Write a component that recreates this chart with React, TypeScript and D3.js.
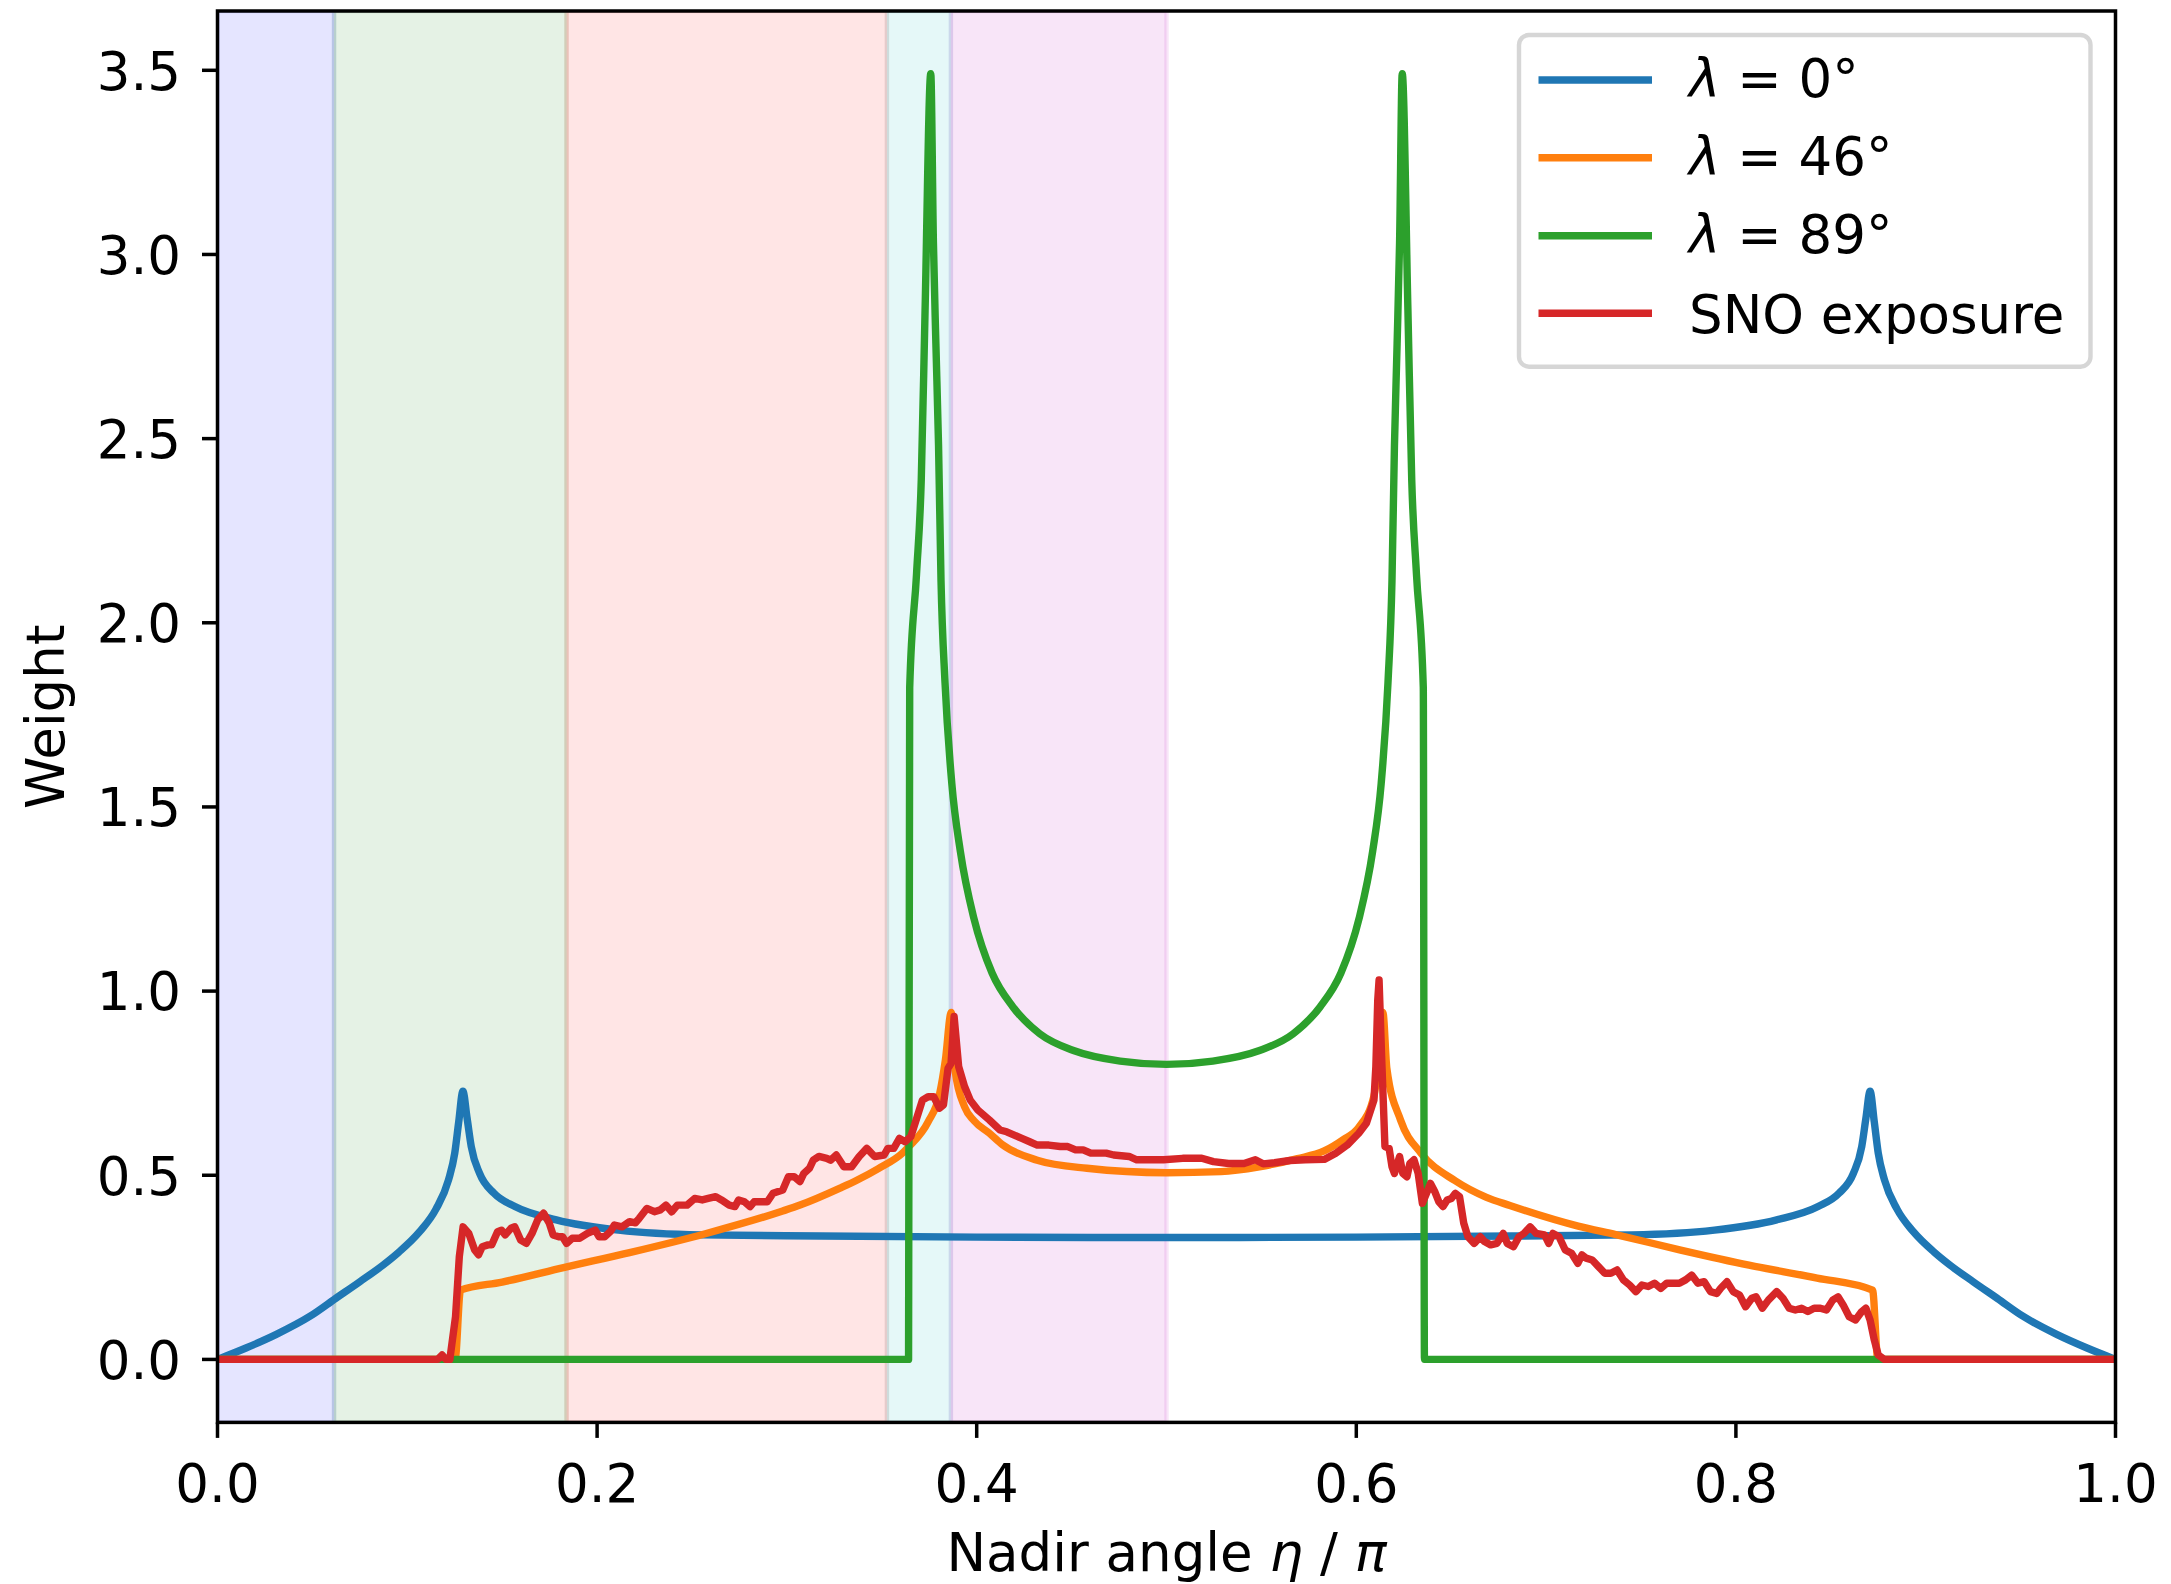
import React from "react";
import * as d3 from "d3";

// ---------- data ----------
const xTicks = [0, 0.2, 0.4, 0.6, 0.8, 1.0];
const yTicks = [0, 0.5, 1.0, 1.5, 2.0, 2.5, 3.0, 3.5];

// shaded regions (eta / pi)
const spanStarts = [0, 0.0614, 0.1839, 0.3527, 0.3864];
const spanEnds = [0.0614, 0.1839, 0.3527, 0.3864, 0.5];
const spanColors = ["#0000ff", "#008000", "#ff0000", "#00bfbf", "#bf00bf"];

const seriesNames = ["λ = 0°", "λ = 46°", "λ = 89°", "SNO exposure"];
const seriesColors = ["#1f77b4", "#ff7f0e", "#2ca02c", "#d62728"];

const lambda0: [number, number][] = [
  [0, 0], [0.015, 0.031], [0.031, 0.068], [0.049, 0.118], [0.0621, 0.165], [0.075, 0.211],
  [0.0872, 0.256], [0.0955, 0.291], [0.1064, 0.346], [0.1151, 0.408], [0.1217, 0.487],
  [0.125, 0.56], [0.1271, 0.645], [0.1293, 0.728], [0.1315, 0.655], [0.1337, 0.578],
  [0.1381, 0.505], [0.1457, 0.451], [0.1567, 0.415], [0.1785, 0.379], [0.2113, 0.351],
  [0.255, 0.338], [0.318, 0.335], [0.4, 0.332], [0.5, 0.331],
  [0.6, 0.332], [0.682, 0.335], [0.745, 0.338], [0.7887, 0.351], [0.8215, 0.379],
  [0.8433, 0.415], [0.8543, 0.451], [0.8619, 0.505], [0.8663, 0.578], [0.8685, 0.655],
  [0.8707, 0.728], [0.8729, 0.645], [0.875, 0.56], [0.8783, 0.487], [0.8849, 0.408],
  [0.8936, 0.346], [0.9045, 0.291], [0.9128, 0.256], [0.925, 0.211], [0.9379, 0.165],
  [0.951, 0.118], [0.969, 0.068], [0.985, 0.031], [1, 0],
];

const lambda46: [number, number][] = [
  [0, 0], [0.1252, 0], [0.128, 0.188], [0.15, 0.21], [0.1829, 0.25], [0.2171, 0.29],
  [0.2575, 0.342], [0.2978, 0.403], [0.3069, 0.419], [0.328, 0.465], [0.3371, 0.487],
  [0.3482, 0.518], [0.3613, 0.562], [0.3643, 0.578], [0.3744, 0.645], [0.3805, 0.722],
  [0.3835, 0.813], [0.3866, 0.942], [0.3886, 0.785], [0.3936, 0.686], [0.3986, 0.648],
  [0.4067, 0.614], [0.4138, 0.582], [0.4319, 0.541], [0.4581, 0.519], [0.5, 0.507],
  [0.5287, 0.51], [0.5489, 0.523], [0.569, 0.545], [0.5831, 0.566], [0.5932, 0.597],
  [0.6013, 0.63], [0.6093, 0.715], [0.6124, 0.85], [0.614, 0.942], [0.6161, 0.79],
  [0.6233, 0.65], [0.6341, 0.56], [0.6521, 0.485], [0.6686, 0.44], [0.6809, 0.418],
  [0.7169, 0.362], [0.7367, 0.339], [0.7709, 0.297], [0.8069, 0.256], [0.8428, 0.221],
  [0.872, 0.188], [0.8748, 0], [1, 0],
];

const lambda89: [number, number][] = [
  [0, 0], [0.3641, 0], [0.3647, 1.824], [0.3683, 2.132], [0.3708, 2.389], [0.3728, 2.848],
  [0.3758, 3.491], [0.3772, 3.032], [0.3785, 2.757], [0.3799, 2.481], [0.3812, 2.114],
  [0.3833, 1.838], [0.3869, 1.563], [0.3914, 1.379], [0.3986, 1.196], [0.4081, 1.049],
  [0.4191, 0.957], [0.4333, 0.884], [0.4514, 0.838], [0.4756, 0.81], [0.5, 0.801],
  [0.5244, 0.81], [0.5486, 0.838], [0.5667, 0.884], [0.5809, 0.957], [0.5919, 1.049],
  [0.6014, 1.196], [0.6086, 1.379], [0.6131, 1.563], [0.6167, 1.838], [0.6188, 2.114],
  [0.6201, 2.481], [0.6215, 2.757], [0.6228, 3.032], [0.6242, 3.491], [0.6272, 2.848],
  [0.6292, 2.389], [0.6317, 2.132], [0.6353, 1.824], [0.6359, 0], [1, 0],
];

const snoExposure: [number, number][] = [
  [0, 0], [0.116, 0], [0.1183, 0.012], [0.1203, 0], [0.1224, 0], [0.1254, 0.116], [0.1274, 0.279],
  [0.1294, 0.36], [0.1324, 0.342], [0.1355, 0.297], [0.1375, 0.284], [0.1395, 0.306], [0.1425, 0.311],
  [0.1445, 0.311], [0.1476, 0.347], [0.1496, 0.351], [0.1516, 0.338], [0.1546, 0.356], [0.1566, 0.36],
  [0.1597, 0.324], [0.1627, 0.315], [0.1657, 0.342], [0.1687, 0.379], [0.1718, 0.397], [0.1748, 0.37],
  [0.1768, 0.338], [0.1798, 0.333], [0.1818, 0.333], [0.1839, 0.315], [0.1869, 0.329], [0.1909, 0.329],
  [0.1949, 0.342], [0.199, 0.351], [0.201, 0.333], [0.204, 0.333], [0.207, 0.347], [0.2091, 0.365],
  [0.2131, 0.36], [0.2171, 0.374], [0.2202, 0.371], [0.2222, 0.383], [0.2262, 0.41], [0.2302, 0.401],
  [0.2333, 0.406], [0.2363, 0.419], [0.2393, 0.401], [0.2423, 0.419], [0.2474, 0.419], [0.2514, 0.437],
  [0.2554, 0.433], [0.2585, 0.437], [0.2625, 0.442], [0.2655, 0.433], [0.2696, 0.419], [0.2726, 0.415],
  [0.2746, 0.433], [0.2776, 0.428], [0.2806, 0.415], [0.2827, 0.428], [0.2877, 0.428], [0.2897, 0.428],
  [0.2927, 0.451], [0.2978, 0.46], [0.3008, 0.496], [0.3038, 0.496], [0.3069, 0.483], [0.3089, 0.505],
  [0.3119, 0.519], [0.3139, 0.541], [0.3169, 0.551], [0.321, 0.546], [0.323, 0.541], [0.326, 0.555],
  [0.33, 0.523], [0.3341, 0.523], [0.3381, 0.551], [0.3421, 0.573], [0.3462, 0.551], [0.3512, 0.555],
  [0.3532, 0.573], [0.3563, 0.573], [0.3593, 0.6], [0.3623, 0.591], [0.3653, 0.605], [0.3684, 0.655],
  [0.3714, 0.704], [0.3744, 0.713], [0.3774, 0.713], [0.3804, 0.682], [0.3825, 0.691], [0.3849, 0.79],
  [0.3865, 0.804], [0.3881, 0.931], [0.3905, 0.795], [0.3936, 0.741], [0.3966, 0.704], [0.4006, 0.677],
  [0.4067, 0.65], [0.4123, 0.623], [0.4158, 0.618], [0.4198, 0.609], [0.4238, 0.6], [0.4279, 0.591],
  [0.4319, 0.582], [0.438, 0.582], [0.444, 0.578], [0.448, 0.578], [0.4521, 0.569], [0.4561, 0.569],
  [0.4601, 0.56], [0.4682, 0.56], [0.4722, 0.555], [0.4803, 0.551], [0.4843, 0.542], [0.4884, 0.542],
  [0.4984, 0.542], [0.5085, 0.546], [0.5186, 0.546], [0.5247, 0.537], [0.5327, 0.532], [0.5408, 0.532],
  [0.5468, 0.542], [0.5509, 0.531], [0.5569, 0.534], [0.565, 0.54], [0.573, 0.542], [0.5831, 0.543],
  [0.5892, 0.56], [0.5952, 0.582], [0.6013, 0.614], [0.6053, 0.641], [0.6093, 0.704], [0.6103, 0.795],
  [0.6113, 0.976], [0.612, 1.03], [0.6134, 0.813], [0.6151, 0.578], [0.6173, 0.573], [0.6188, 0.523],
  [0.6201, 0.505], [0.6228, 0.551], [0.6245, 0.505], [0.6267, 0.496], [0.6282, 0.532], [0.6304, 0.542],
  [0.6326, 0.505], [0.6348, 0.424], [0.637, 0.451], [0.6391, 0.478], [0.6413, 0.456], [0.6435, 0.428],
  [0.6457, 0.415], [0.6479, 0.433], [0.6501, 0.437], [0.6522, 0.451], [0.6544, 0.442], [0.6566, 0.37],
  [0.6588, 0.333], [0.6621, 0.315], [0.6653, 0.333], [0.6675, 0.32], [0.6708, 0.311], [0.6741, 0.315],
  [0.6774, 0.342], [0.6795, 0.315], [0.6828, 0.306], [0.6857, 0.333], [0.6883, 0.342], [0.6916, 0.36],
  [0.6948, 0.342], [0.6992, 0.338], [0.7014, 0.315], [0.7036, 0.342], [0.7068, 0.333], [0.7101, 0.297],
  [0.7134, 0.288], [0.7167, 0.261], [0.7189, 0.284], [0.7211, 0.275], [0.7243, 0.27], [0.7276, 0.252],
  [0.7309, 0.234], [0.7341, 0.234], [0.7374, 0.243], [0.7407, 0.216], [0.744, 0.202], [0.7473, 0.184],
  [0.7505, 0.202], [0.7538, 0.198], [0.7571, 0.207], [0.7604, 0.193], [0.7636, 0.207], [0.7669, 0.207],
  [0.7702, 0.207], [0.7735, 0.216], [0.7767, 0.229], [0.78, 0.207], [0.7833, 0.211], [0.7866, 0.184],
  [0.7899, 0.179], [0.792, 0.193], [0.7953, 0.211], [0.7986, 0.184], [0.8019, 0.175], [0.8051, 0.143],
  [0.8084, 0.166], [0.8106, 0.17], [0.8139, 0.139], [0.8171, 0.161], [0.8215, 0.184], [0.8248, 0.166],
  [0.8281, 0.139], [0.8313, 0.134], [0.8346, 0.139], [0.8379, 0.13], [0.8412, 0.139], [0.8445, 0.139],
  [0.8477, 0.134], [0.851, 0.161], [0.8538, 0.17], [0.8565, 0.148], [0.8597, 0.116], [0.863, 0.107],
  [0.8663, 0.13], [0.8685, 0.139], [0.8707, 0.107], [0.8729, 0.053], [0.875, 0.012], [0.8783, 0], [1, 0],
];

const allSeries = [lambda0, lambda46, lambda89, snoExposure];

// ---------- layout ----------
const W = 2171;
const H = 1584;
const left = 217.5;
const right = 2115.5;
const top = 11;
const bottom = 1422.4;
const FONT = "DejaVu Sans, Verdana, sans-serif";
const FS = 53;
const LW = 7.4;

export default function App() {
  const x = d3.scaleLinear().domain([0, 1]).range([left, right]);
  const y = d3.scaleLinear().domain([-0.171, 3.661]).range([bottom, top]);
  const smooth = d3
    .line<[number, number]>()
    .x((d) => x(d[0]))
    .y((d) => y(d[1]))
    .curve(d3.curveMonotoneX);
  const straight = d3
    .line<[number, number]>()
    .x((d) => x(d[0]))
    .y((d) => y(d[1]));

  const legendRows = [80, 157.7, 235.7, 313.3];

  return (
    <svg
      width={W}
      height={H}
      viewBox={`0 0 ${W} ${H}`}
      style={{ position: "absolute", left: 0, top: 0, background: "#fff" }}
      fontFamily={FONT}
    >
      <rect x={0} y={0} width={W} height={H} fill="#fff" />
      <defs>
        <clipPath id="plotclip">
          <rect x={left} y={top} width={right - left} height={bottom - top} />
        </clipPath>
      </defs>

      {/* shaded spans */}
      <g clipPath="url(#plotclip)">
        {spanStarts.map((s, i) => (
          <rect
            key={i}
            x={x(s)}
            y={top}
            width={x(spanEnds[i]) - x(s)}
            height={bottom - top}
            fill={spanColors[i]}
            fillOpacity={0.1}
            stroke={spanColors[i]}
            strokeOpacity={0.1}
            strokeWidth={4.4}
          />
        ))}
      </g>

      {/* lines */}
      <g clipPath="url(#plotclip)">
        {allSeries.map((s, i) => (
          <path
            key={i}
            d={(i === 3 ? straight(s) : smooth(s)) || ""}
            fill="none"
            stroke={seriesColors[i]}
            strokeWidth={LW}
            strokeLinejoin="round"
            strokeLinecap="butt"
          />
        ))}
      </g>

      {/* axes frame */}
      <rect
        x={left}
        y={top}
        width={right - left}
        height={bottom - top}
        fill="none"
        stroke="#000"
        strokeWidth={3.5}
      />

      {/* x ticks */}
      {xTicks.map((t) => (
        <g key={"x" + t}>
          <line x1={x(t)} x2={x(t)} y1={bottom} y2={bottom + 15.5} stroke="#000" strokeWidth={3.5} />
          <text x={x(t)} y={1501.7} textAnchor="middle" fontSize={FS} fill="#000">
            {t.toFixed(1)}
          </text>
        </g>
      ))}

      {/* y ticks */}
      {yTicks.map((t) => (
        <g key={"y" + t}>
          <line x1={left - 15.5} x2={left} y1={y(t)} y2={y(t)} stroke="#000" strokeWidth={3.5} />
          <text x={181} y={y(t) + 19.3} textAnchor="end" fontSize={FS} fill="#000">
            {t.toFixed(1)}
          </text>
        </g>
      ))}

      {/* axis labels */}
      <text x={(left + right) / 2} y={1571} textAnchor="middle" fontSize={FS} fill="#000">
        Nadir angle <tspan fontStyle="italic">η</tspan> / <tspan fontStyle="italic">π</tspan>
      </text>
      <text
        transform={`translate(63.6, ${(top + bottom) / 2}) rotate(-90)`}
        textAnchor="middle"
        fontSize={FS}
        fill="#000"
      >
        Weight
      </text>

      {/* legend */}
      <rect
        x={1519}
        y={35}
        width={571.5}
        height={331.7}
        rx={10}
        ry={10}
        fill="#fff"
        fillOpacity={0.8}
        stroke="#cccccc"
        strokeOpacity={0.8}
        strokeWidth={4.4}
      />
      {seriesNames.map((name, i) => (
        <g key={name}>
          <line
            x1={1538.5}
            x2={1652}
            y1={legendRows[i]}
            y2={legendRows[i]}
            stroke={seriesColors[i]}
            strokeWidth={LW}
          />
          {i < 3 ? (
            <text x={1689} y={legendRows[i] + 17} fontSize={FS} fill="#000">
              <tspan fontStyle="italic">λ</tspan>
              {name.slice(1)}
            </text>
          ) : (
            <text x={1689} y={legendRows[i] + 19.5} fontSize={FS} fill="#000">
              {name}
            </text>
          )}
        </g>
      ))}
    </svg>
  );
}
